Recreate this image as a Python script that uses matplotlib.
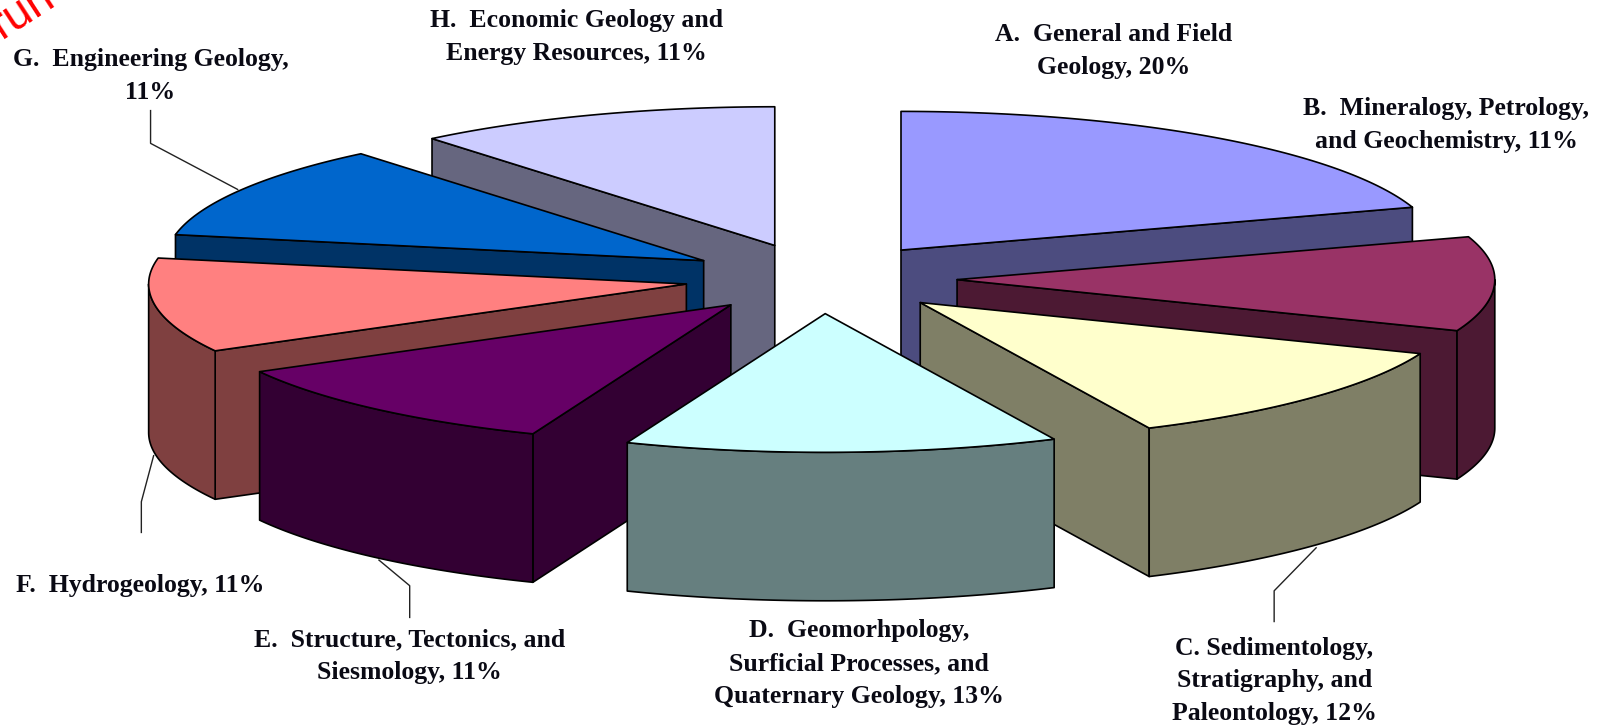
#! /usr/bin/python3

import numpy as np
from matplotlib import pyplot as plt
from matplotlib.patches import Polygon

################
# Data Storage #
################

letters = ['A', 'B', 'C', 'D', 'E', 'F', 'G', 'H']
percents = [20, 11, 12, 13, 11, 11, 11, 11]
top_colors = ['#9999FF', '#993366', '#FFFFCC', '#CCFFFF',
              '#660066', '#FF8080', '#0066CC', '#CCCCFF']
side_colors = ['#4C4C7F', '#4C1933', '#7F7F66', '#667F7F',
               '#330033', '#7F4040', '#003366', '#66667F']
label_text = ['A.  General and Field\nGeology, 20%',
              'B.  Mineralogy, Petrology,\nand Geochemistry, 11%',
              'C. Sedimentology,\nStratigraphy, and\nPaleontology, 12%',
              'D.  Geomorhpology,\nSurficial Processes, and\nQuaternary Geology, 13%',
              'E.  Structure, Tectonics, and\nSiesmology, 11%',
              'F.  Hydrogeology, 11%',
              'G.  Engineering Geology,\n11%',
              'H.  Economic Geology and\nEnergy Resources, 11%']
label_x = [1087, 1412, 1244, 839, 400, 137, 147, 563]
label_y = [50, 122, 665, 648, 641, 572, 74, 36]

##############################
# Pie Geometry (image units) #
##############################

cx, cy = 801.5, 272
radius = 525
squash = 0.258
explode = 133
depth = 145

draw_order = [7, 0, 6, 1, 5, 2, 4, 3]  # back to front

fig = plt.figure(figsize = (16.06, 7.27), dpi = 100)
ax = fig.add_axes([0, 0, 1, 1])
ax.set_xlim(0, 1568)
ax.set_ylim(710, 0)
ax.axis('off')


def rim(x0, y0, a, b):
    # Points on the outer edge between two angles (clockwise from 12 o'clock)
    t = np.radians(np.linspace(a, b, max(int(abs(b - a)) * 2, 2)))
    return x0 + radius * np.sin(t), y0 - radius * squash * np.cos(t)


def face(xs, ys, color, z):
    ax.add_patch(Polygon(np.column_stack([xs, ys]), closed = True, facecolor = color,
                         edgecolor = 'black', linewidth = 1.2, zorder = z,
                         joinstyle = 'round'))


ends = np.cumsum(percents) * 3.6
starts = ends - np.array(percents) * 3.6

for z, i in enumerate(draw_order):
    a, b = starts[i], ends[i]
    mid = np.radians((a + b) / 2)
    x0 = cx + explode * np.sin(mid)
    y0 = cy - explode * squash * np.cos(mid)
    zo = 2 + z

    # Flat radial walls, only the ones turned toward the viewer
    if np.sin(np.radians(a)) < 0:
        xe, ye = rim(x0, y0, a, a + 0.001)
        face([x0, xe[0], xe[0], x0], [y0, ye[0], ye[0] + depth, y0 + depth], side_colors[i], zo)
    if np.sin(np.radians(b)) > 0:
        xe, ye = rim(x0, y0, b, b + 0.001)
        face([x0, xe[0], xe[0], x0], [y0, ye[0], ye[0] + depth, y0 + depth], side_colors[i], zo)

    # Curved outer wall on the front half of the ellipse
    lo, hi = max(a, 90), min(b, 270)
    if lo < hi:
        xr, yr = rim(x0, y0, lo, hi)
        face(np.r_[xr, xr[::-1]], np.r_[yr, yr[::-1] + depth], side_colors[i], zo)

    # Top of the slice
    xr, yr = rim(x0, y0, a, b)
    face(np.r_[x0, xr], np.r_[y0, yr], top_colors[i], zo)

###########
# Leaders #
###########

leaders = [([147, 147, 232], [108, 140, 185]),
           ([138, 138, 150], [520, 490, 445]),
           ([400, 400, 370], [603, 572, 547]),
           ([1244, 1244, 1285], [607, 577, 535])]
for lx, ly in leaders:
    ax.plot(lx, ly, color = '#222222', linewidth = 1.0, zorder = 1)

##########
# Labels #
##########

for x, y, s in zip(label_x, label_y, label_text):
    ax.text(x, y, s, ha = 'center', va = 'center', family = 'Liberation Serif',
            weight = 'bold', fontsize = 18.5, color = '#0a0a14', linespacing = 1.55,
            zorder = 20)

ax.text(2, 38, 'run', color = 'red', fontsize = 33, family = 'Liberation Sans',
        rotation = 33, rotation_mode = 'anchor', ha = 'left', va = 'baseline',
        zorder = 21)

plt.savefig('out.png', dpi = 100)
